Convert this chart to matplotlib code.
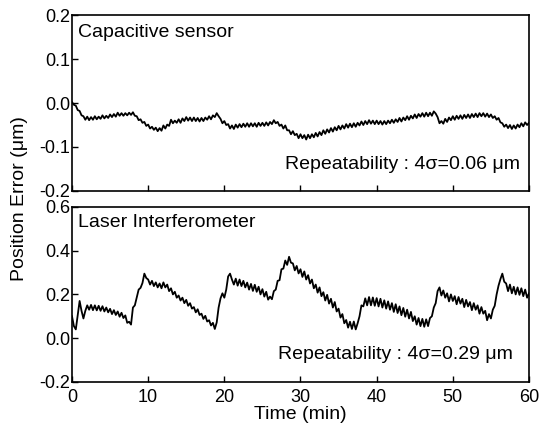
import numpy as np
import matplotlib
matplotlib.use("Agg")
import matplotlib.pyplot as plt

plt.rcParams['font.family'] = ['Liberation Sans', 'DejaVu Sans']

# time axis (min), one reading every 0.25 min
time_min = np.arange(0, 60.01, 0.25)

# capacitive sensor position error (um)
cap_err = [
    0.002, -0.004, -0.006, -0.016,
    -0.018, -0.028, -0.030, -0.038,
    -0.031, -0.039, -0.032, -0.038,
    -0.030, -0.037, -0.031, -0.036,
    -0.028, -0.035, -0.029, -0.034,
    -0.026, -0.032, -0.025, -0.031,
    -0.022, -0.029, -0.023, -0.029,
    -0.023, -0.028, -0.022, -0.027,
    -0.021, -0.029, -0.030, -0.039,
    -0.037, -0.045, -0.043, -0.052,
    -0.049, -0.058, -0.054, -0.061,
    -0.056, -0.064, -0.057, -0.063,
    -0.051, -0.058, -0.049, -0.052,
    -0.038, -0.046, -0.040, -0.045,
    -0.037, -0.045, -0.035, -0.041,
    -0.032, -0.040, -0.033, -0.041,
    -0.033, -0.041, -0.034, -0.042,
    -0.034, -0.041, -0.033, -0.038,
    -0.030, -0.037, -0.028, -0.032,
    -0.023, -0.030, -0.036, -0.046,
    -0.041, -0.050, -0.048, -0.058,
    -0.051, -0.059, -0.049, -0.056,
    -0.048, -0.055, -0.047, -0.054,
    -0.046, -0.054, -0.046, -0.053,
    -0.046, -0.054, -0.045, -0.052,
    -0.045, -0.052, -0.044, -0.051,
    -0.043, -0.048, -0.039, -0.046,
    -0.043, -0.052, -0.049, -0.058,
    -0.051, -0.062, -0.062, -0.071,
    -0.064, -0.073, -0.070, -0.080,
    -0.071, -0.080, -0.073, -0.083,
    -0.072, -0.080, -0.071, -0.078,
    -0.068, -0.076, -0.066, -0.073,
    -0.062, -0.070, -0.060, -0.067,
    -0.057, -0.065, -0.055, -0.062,
    -0.052, -0.060, -0.051, -0.058,
    -0.048, -0.056, -0.047, -0.055,
    -0.046, -0.054, -0.045, -0.051,
    -0.042, -0.050, -0.041, -0.048,
    -0.039, -0.047, -0.040, -0.048,
    -0.040, -0.048, -0.041, -0.049,
    -0.041, -0.048, -0.040, -0.046,
    -0.038, -0.045, -0.037, -0.043,
    -0.034, -0.042, -0.033, -0.039,
    -0.030, -0.038, -0.029, -0.035,
    -0.026, -0.034, -0.025, -0.031,
    -0.023, -0.031, -0.022, -0.030,
    -0.022, -0.029, -0.019, -0.024,
    -0.032, -0.046, -0.041, -0.047,
    -0.036, -0.043, -0.033, -0.039,
    -0.030, -0.038, -0.029, -0.036,
    -0.028, -0.036, -0.027, -0.034,
    -0.026, -0.034, -0.025, -0.032,
    -0.024, -0.032, -0.023, -0.030,
    -0.023, -0.031, -0.024, -0.032,
    -0.026, -0.034, -0.030, -0.038,
    -0.034, -0.044, -0.046, -0.054,
    -0.049, -0.057, -0.050, -0.059,
    -0.051, -0.058, -0.049, -0.055,
    -0.046, -0.053, -0.044, -0.050,
    -0.045,
]

# laser interferometer position error (um)
laser_err = [
    0.100, 0.055, 0.040, 0.105,
    0.170, 0.125, 0.090, 0.125,
    0.150, 0.130, 0.152, 0.128,
    0.150, 0.127, 0.148, 0.125,
    0.146, 0.122, 0.140, 0.118,
    0.134, 0.110, 0.128, 0.106,
    0.122, 0.098, 0.116, 0.092,
    0.104, 0.070, 0.075, 0.062,
    0.140, 0.150, 0.185, 0.222,
    0.230, 0.252, 0.295, 0.275,
    0.268, 0.245, 0.262, 0.238,
    0.255, 0.232, 0.250, 0.228,
    0.255, 0.232, 0.245, 0.215,
    0.228, 0.200, 0.212, 0.185,
    0.195, 0.172, 0.185, 0.160,
    0.175, 0.148, 0.160, 0.135,
    0.142, 0.118, 0.132, 0.106,
    0.112, 0.088, 0.102, 0.076,
    0.082, 0.058, 0.070, 0.042,
    0.072, 0.140, 0.182, 0.205,
    0.185, 0.222, 0.282, 0.295,
    0.268, 0.245, 0.272, 0.240,
    0.268, 0.238, 0.262, 0.232,
    0.254, 0.222, 0.248, 0.216,
    0.244, 0.212, 0.235, 0.200,
    0.224, 0.190, 0.212, 0.176,
    0.190, 0.178, 0.215, 0.222,
    0.262, 0.265, 0.315, 0.318,
    0.355, 0.335, 0.372, 0.345,
    0.342, 0.310, 0.330, 0.296,
    0.315, 0.280, 0.305, 0.268,
    0.288, 0.250, 0.268, 0.228,
    0.245, 0.208, 0.232, 0.192,
    0.210, 0.172, 0.198, 0.158,
    0.180, 0.140, 0.165, 0.122,
    0.135, 0.094, 0.110, 0.068,
    0.083, 0.048, 0.075, 0.042,
    0.076, 0.040, 0.068, 0.100,
    0.150, 0.145, 0.182, 0.150,
    0.188, 0.150, 0.186, 0.148,
    0.183, 0.145, 0.180, 0.140,
    0.173, 0.135, 0.168, 0.130,
    0.160, 0.120, 0.155, 0.115,
    0.145, 0.105, 0.138, 0.098,
    0.130, 0.090, 0.120, 0.078,
    0.100, 0.062, 0.092, 0.055,
    0.088, 0.052, 0.086, 0.055,
    0.092, 0.100, 0.140, 0.160,
    0.215, 0.232, 0.195, 0.218,
    0.185, 0.205, 0.168, 0.200,
    0.170, 0.192, 0.155, 0.188,
    0.158, 0.180, 0.142, 0.175,
    0.145, 0.165, 0.128, 0.160,
    0.130, 0.150, 0.112, 0.142,
    0.112, 0.125, 0.082, 0.110,
    0.090, 0.130, 0.148, 0.200,
    0.240, 0.270, 0.295, 0.258,
    0.250, 0.215, 0.245, 0.205,
    0.235, 0.200, 0.232, 0.198,
    0.228, 0.192, 0.222, 0.185,
    0.205,
]

x_ticks = [0, 10, 20, 30, 40, 50, 60]
cap_ticks = [-0.2, -0.1, 0.0, 0.1, 0.2]
laser_ticks = [-0.2, 0.0, 0.2, 0.4, 0.6]

fig = plt.figure(figsize=(5.43, 4.32), dpi=100)
ax1 = fig.add_axes([0.1326, 0.558, 0.8416, 0.407])
ax2 = fig.add_axes([0.1326, 0.116, 0.8416, 0.405], sharex=ax1)

ax1.plot(time_min, cap_err, color='black', lw=1.3)
ax2.plot(time_min, laser_err, color='black', lw=1.3)

ax1.set_ylim(-0.2, 0.2)
ax1.set_yticks(cap_ticks)
ax1.set_yticklabels(['-0.2', '-0.1', '0.0', '0.1', '0.2'])
ax2.set_ylim(-0.2, 0.6)
ax2.set_yticks(laser_ticks)
ax2.set_yticklabels(['-0.2', '0.0', '0.2', '0.4', '0.6'])
ax2.set_xlim(0, 60)
ax2.set_xticks(x_ticks)

for ax in (ax1, ax2):
    ax.tick_params(direction='in', length=4, width=1, labelsize=13, pad=1)
    for sp in ax.spines.values():
        sp.set_linewidth(1.2)
ax1.tick_params(labelbottom=False)
ax2.tick_params(axis='x', pad=5)

ax1.text(0.013, 0.90, 'Capacitive sensor', transform=ax1.transAxes,
         fontsize=14, va='center', ha='left')
ax1.text(0.98, 0.15, 'Repeatability : 4σ=0.06 μm', transform=ax1.transAxes,
         fontsize=14, va='center', ha='right')
ax2.text(0.013, 0.91, 'Laser Interferometer', transform=ax2.transAxes,
         fontsize=14, va='center', ha='left')
ax2.text(0.965, 0.155, 'Repeatability : 4σ=0.29 μm', transform=ax2.transAxes,
         fontsize=14, va='center', ha='right')

ax2.set_xlabel('Time (min)', fontsize=14, labelpad=0)
fig.text(0.035, 0.54, 'Position Error (μm)', rotation=90, fontsize=14,
         va='center', ha='center')

fig.savefig('out.png', dpi=100)
